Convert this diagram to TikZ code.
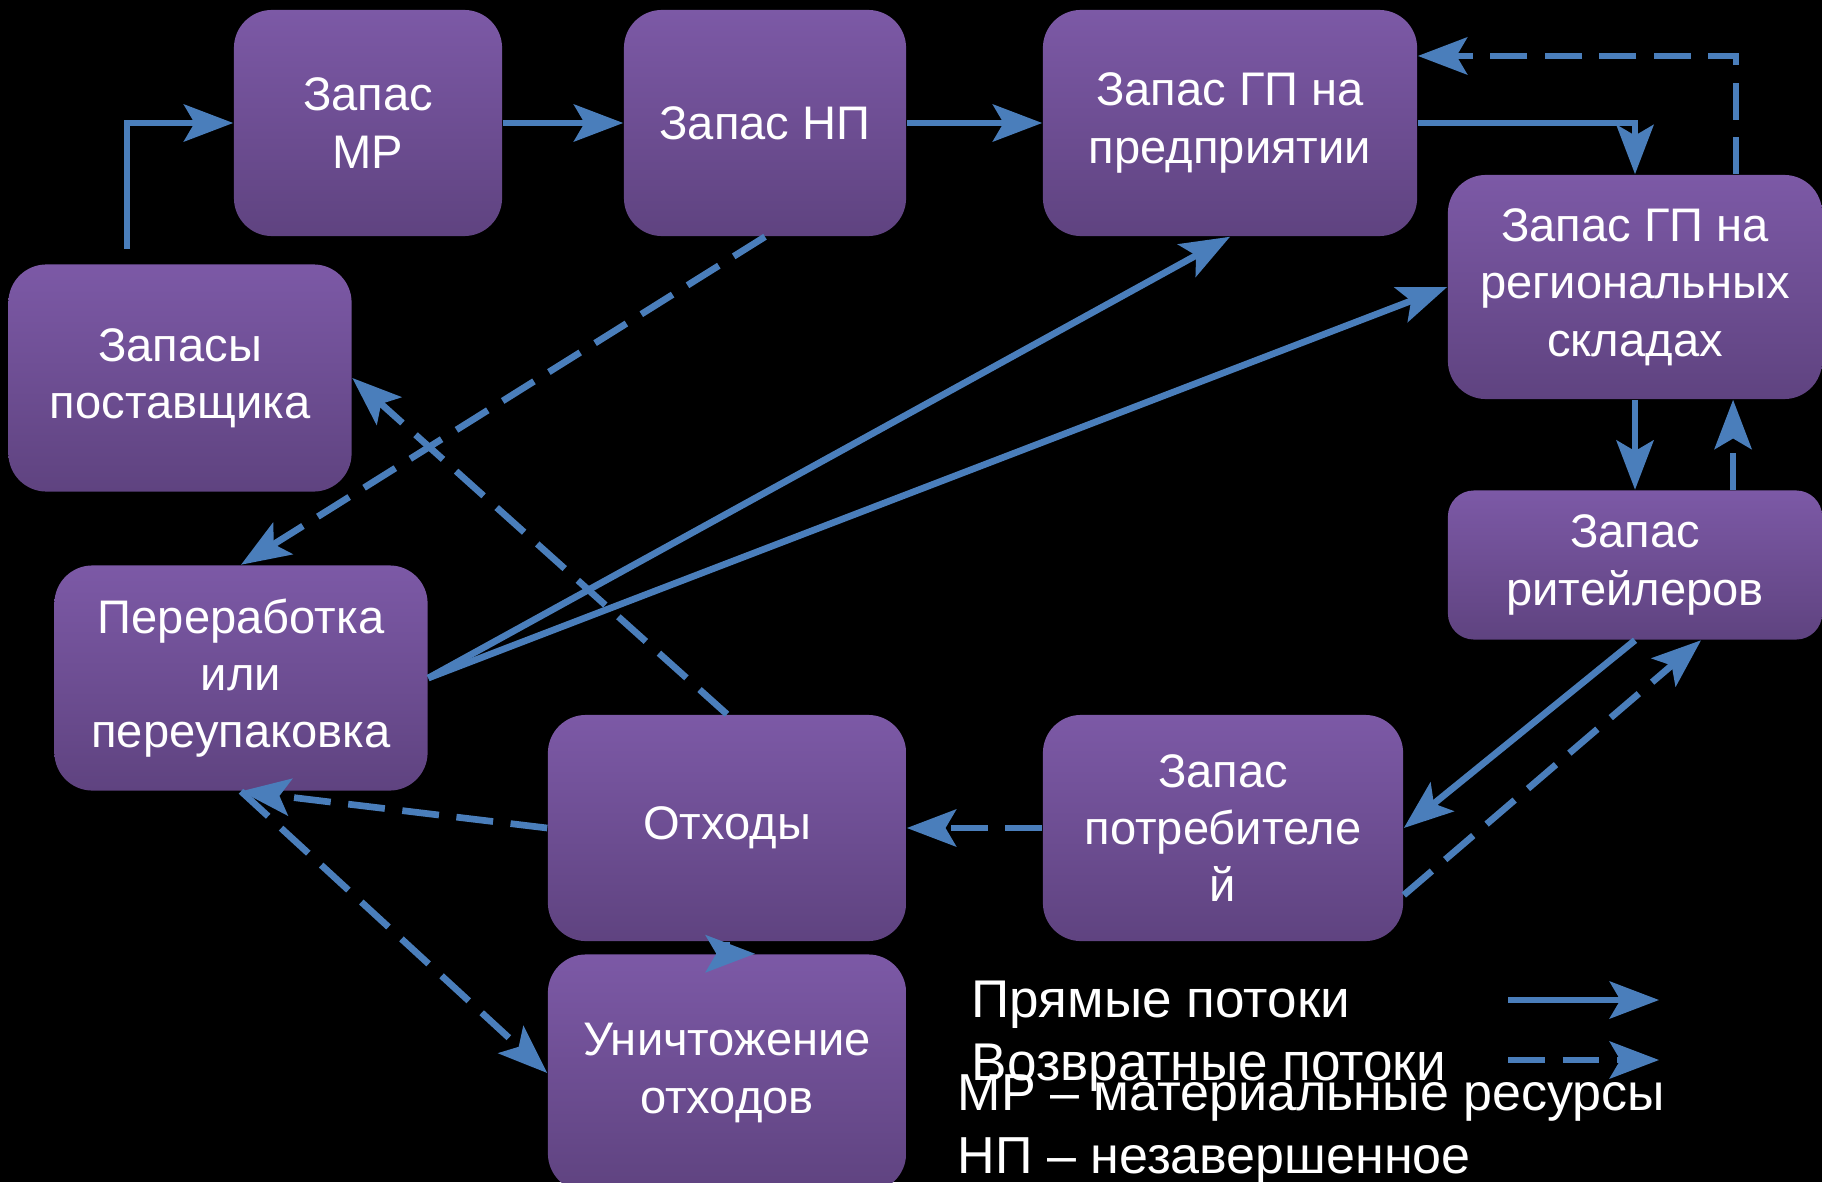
\documentclass[tikz,border=0pt]{standalone}
\usepackage{fontspec}
\setmainfont{Liberation Sans}
\usetikzlibrary{arrows.meta}
\definecolor{boxtop}{RGB}{124,89,166}
\definecolor{boxbot}{RGB}{95,67,128}
\definecolor{flowblue}{RGB}{74,126,187}
\tikzset{
  box/.style={rounded corners=0.38cm, top color=boxtop, bottom color=boxbot,
    draw=none, text=white, align=center, inner sep=0pt,
    font=\fontsize{13.4}{16.3}\selectfont},
  fwd/.style={draw=flowblue, line width=1.9pt,
    -{Stealth[length=14pt, width=10.5pt, inset=3pt]}},
  retflow/.style={fwd, dash pattern=on 10.5pt off 5pt},
  legend/.style={text=white, inner sep=0pt, anchor=base west}
}
\begin{document}
\begin{tikzpicture}[x=0.01cm, y=-0.01cm]
  %% Background
  \fill[black] (0,0) rectangle (1822,1182);
  \useasboundingbox (0,0) rectangle (1822,1182);
  %% Stock boxes
  \node[box, minimum width=2.68cm, minimum height=2.26cm] (mr) at (368,123) {Запас\\МР};
  \node[box, minimum width=2.82cm, minimum height=2.26cm] (np) at (765,123) {Запас НП};
  \node[box, minimum width=3.74cm, minimum height=2.26cm] (gpfirm) at (1230,123) {Запас ГП на\\предприятии};
  \node[box, minimum width=3.74cm, minimum height=2.24cm] (gpreg) at (1635,287) {Запас ГП на\\региональных\\складах};
  \node[box, rounded corners=0.26cm, minimum width=3.74cm, minimum height=1.49cm] (retail) at (1635,565) {Запас\\ритейлеров};
  \node[box, minimum width=3.43cm, minimum height=2.27cm] (supply) at (180,378) {Запасы\\поставщика};
  \node[box, minimum width=3.73cm, minimum height=2.25cm] (recycle) at (241,678) {Переработка\\или\\переупаковка};
  \node[box, minimum width=3.58cm, minimum height=2.26cm] (waste) at (727,828) {Отходы};
  \node[box, minimum width=3.60cm, minimum height=2.26cm] (consumer) at (1223,828) {Запас\\потребителе\\й};
  \node[box, minimum width=3.58cm, minimum height=2.37cm] (destroy) at (727,1073) {Уничтожение\\отходов};
  %% Direct flows
  \coordinate (suptop) at (127,249);
  \draw[fwd] (suptop) |- (mr.west);
  \draw[fwd] (mr) -- (np);
  \draw[fwd] (np) -- (gpfirm);
  \draw[fwd] (gpfirm.east) -| (gpreg.north);
  \draw[fwd] (gpreg.south) -- (retail.north);
  \draw[fwd] (retail.south) -- (consumer.east);
  \draw[fwd] (recycle.east) -- (gpfirm.south);
  \draw[fwd] (recycle.east) -- (gpreg.west);
  \draw[fwd] (waste.south) |- ([xshift=0.28cm]destroy.north);
  %% Return flows
  \draw[retflow] ([xshift=1.01cm]gpreg.north) |- ([yshift=0.67cm]gpfirm.east);
  \draw[retflow] ([xshift=0.98cm]retail.north) -- ([xshift=0.98cm]gpreg.south);
  \draw[retflow] ([yshift=-0.67cm]consumer.east) -- ([xshift=0.66cm]retail.south);
  \draw[retflow] (consumer.west) -- (waste.east);
  \draw[retflow] (waste.west) -- (recycle.south);
  \draw[retflow] (recycle.south) -- (destroy.west);
  \draw[retflow] (np.south) -- (recycle.north);
  \draw[retflow] (waste.north) -- (supply.east);
  %% Legend
  \node[legend, font=\fontsize{15.1}{17}\selectfont] (lfwd) at (971,1017) {Прямые потоки};
  \node[legend, font=\fontsize{15.1}{17}\selectfont] (lret) at (971,1080) {Возвратные потоки};
  \node[legend, font=\fontsize{14.8}{17}\selectfont] (lmr) at (957,1110) {МР – материальные ресурсы};
  \node[legend, font=\fontsize{14.8}{17}\selectfont] (lnp) at (957,1173) {НП – незавершенное};
  \coordinate (lfwda) at (1508,1000);
  \coordinate (lfwdb) at (1659,1000);
  \coordinate (lreta) at (1508,1060);
  \coordinate (lretb) at (1659,1060);
  \draw[fwd] (lfwda) -- (lfwdb);
  \draw[retflow] (lreta) -- (lretb);
\end{tikzpicture}
\end{document}
